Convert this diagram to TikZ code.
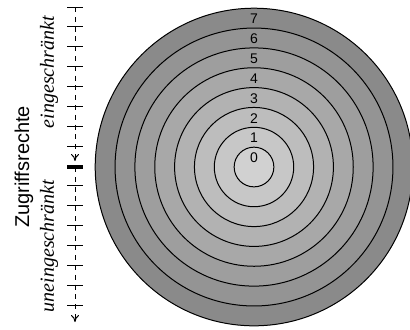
\documentclass[tikz,border=0pt]{standalone}
\usepackage{fontspec}
\setmainfont{Liberation Serif}
\setsansfont{Liberation Sans}
\usepackage{tikz}
\usetikzlibrary{positioning,arrows.meta,calc}
\definecolor{ink}{HTML}{000000}
\tikzset{
  >={To[length=3.5pt,width=4pt]},
  every node/.style={font=\sffamily},
  % --- rings
  ring/.style  = {draw=ink, line width=0.5pt},
  ringno/.style= {font=\sffamily\scriptsize, inner sep=0pt},
  % --- axis
  axis/.style  = {->, draw=ink, line width=0.5pt, dash pattern=on 2.5pt off 2.4pt},
  tick/.style  = {draw=ink, line width=0.5pt},
  midtick/.style={draw=ink, line width=1.6pt},
  side/.style  = {font=\rmfamily\itshape, rotate=90, inner sep=0pt},
  title/.style = {font=\sffamily, rotate=90, inner sep=0pt},
}
\begin{document}
\begin{tikzpicture}[x=0.5pt,y=0.5pt]
  \useasboundingbox (0,0) rectangle (410,-329);
  % rings, outer first
  \coordinate (c) at (254,-167);
  \foreach \k in {7,6,...,0}{
    \pgfmathsetmacro{\shade}{18+4*\k}
    \filldraw[ring, fill=black!\shade] (c) circle[radius={19.85*(\k+1)}];
  }
  \foreach \k in {0,...,7}{
    \node[ringno] (n\k) at ($(c)+(0,{9+19.85*\k})$) {\k};
  }
  % access axis
  \coordinate (top) at (75,-7);
  \coordinate (mid) at (75,-161);
  \coordinate (low) at (75,-167);
  \coordinate (bot) at (75,-322);
  \draw[axis] (top) -- (mid);
  \draw[axis] (low) -- (bot);
  \foreach \i in {0,...,15}{
    \ifnum\i=8\else
      \draw[tick] (67,{-7-19.87*\i}) -- (83,{-7-19.87*\i});
    \fi
  }
  \draw[midtick] (67,-167) -- (83,-167);
  \node[side] (ein) at (49,-72) {eingeschränkt};
  \node[side] (unein) at (49,-246) {uneingeschränkt};
  \node[title] (zug) at (24,-167) {Zugriffsrechte};
\end{tikzpicture}
\end{document}
